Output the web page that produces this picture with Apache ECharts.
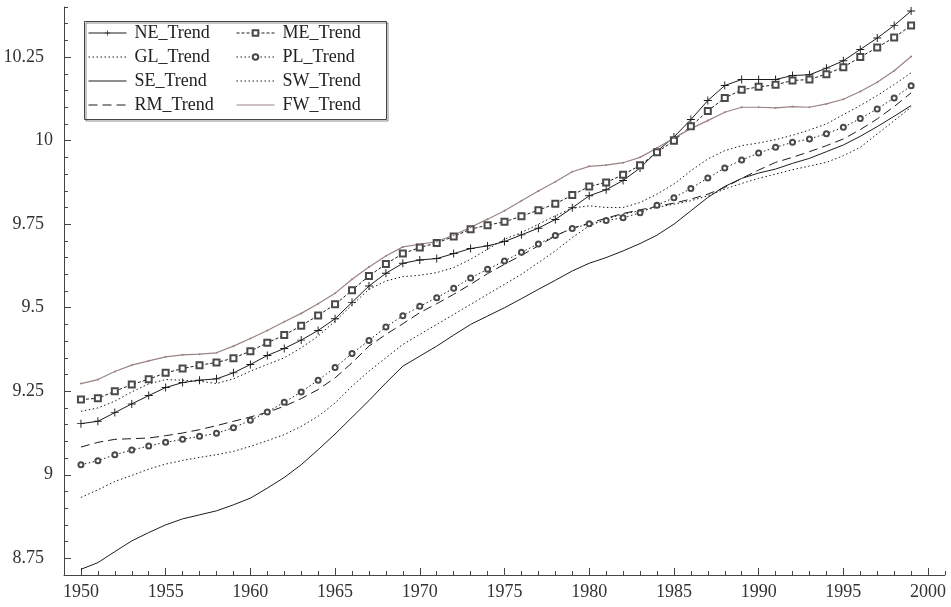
<!DOCTYPE html>
<html>
<head>
<meta charset="utf-8">
<script src="https://cdn.jsdelivr.net/npm/echarts@6/dist/echarts.min.js"></script>
<style>
html,body{margin:0;padding:0;background:#fff;}
#chart{width:951px;height:607px;}
</style>
</head>
<body>
<div id="chart"></div>
<script>
const years = [1950,1951,1952,1953,1954,1955,1956,1957,1958,1959,1960,1961,1962,1963,1964,1965,1966,1967,1968,1969,1970,1971,1972,1973,1974,1975,1976,1977,1978,1979,1980,1981,1982,1983,1984,1985,1986,1987,1988,1989,1990,1991,1992,1993,1994,1995,1996,1997,1998,1999];

const NE_Trend = [9.153,9.160,9.186,9.212,9.237,9.261,9.276,9.283,9.287,9.305,9.330,9.357,9.378,9.403,9.432,9.467,9.516,9.565,9.603,9.633,9.643,9.647,9.662,9.677,9.685,9.698,9.718,9.738,9.764,9.799,9.835,9.853,9.881,9.918,9.968,10.011,10.063,10.120,10.165,10.183,10.183,10.183,10.195,10.197,10.217,10.239,10.273,10.307,10.345,10.388];
const ME_Trend = [9.225,9.229,9.250,9.270,9.286,9.305,9.318,9.328,9.336,9.349,9.370,9.395,9.418,9.446,9.477,9.510,9.552,9.595,9.631,9.662,9.680,9.694,9.713,9.735,9.747,9.757,9.774,9.792,9.811,9.837,9.863,9.875,9.898,9.926,9.965,10.000,10.043,10.089,10.128,10.152,10.161,10.167,10.180,10.183,10.199,10.220,10.250,10.279,10.309,10.345];
const GL_Trend = [8.932,8.955,8.980,8.998,9.017,9.032,9.043,9.052,9.060,9.070,9.085,9.102,9.120,9.145,9.175,9.215,9.265,9.310,9.350,9.390,9.420,9.450,9.480,9.510,9.540,9.570,9.600,9.635,9.670,9.710,9.745,9.765,9.780,9.790,9.800,9.810,9.820,9.835,9.855,9.872,9.887,9.900,9.913,9.924,9.935,9.955,9.980,10.020,10.060,10.100];
const PL_Trend = [9.030,9.042,9.060,9.074,9.086,9.097,9.106,9.115,9.124,9.141,9.163,9.188,9.217,9.248,9.283,9.321,9.363,9.402,9.442,9.476,9.504,9.530,9.558,9.589,9.615,9.640,9.666,9.691,9.716,9.737,9.751,9.761,9.769,9.784,9.807,9.829,9.857,9.888,9.918,9.942,9.963,9.980,9.995,10.005,10.021,10.040,10.066,10.095,10.128,10.164];
const SE_Trend = [8.717,8.737,8.770,8.802,8.827,8.850,8.868,8.880,8.892,8.910,8.930,8.960,8.992,9.030,9.075,9.122,9.172,9.222,9.275,9.325,9.355,9.385,9.418,9.450,9.475,9.500,9.527,9.555,9.582,9.610,9.633,9.650,9.670,9.692,9.717,9.750,9.790,9.830,9.863,9.887,9.903,9.915,9.932,9.947,9.967,9.987,10.013,10.042,10.073,10.105];
const SW_Trend = [9.190,9.200,9.220,9.248,9.272,9.285,9.283,9.280,9.273,9.287,9.310,9.330,9.350,9.380,9.415,9.460,9.508,9.555,9.580,9.593,9.597,9.605,9.620,9.645,9.675,9.705,9.725,9.750,9.775,9.798,9.805,9.800,9.800,9.815,9.840,9.870,9.910,9.945,9.970,9.985,9.993,10.003,10.016,10.032,10.050,10.078,10.105,10.135,10.168,10.203];
const RM_Trend = [9.083,9.097,9.106,9.108,9.110,9.117,9.125,9.135,9.147,9.160,9.173,9.187,9.205,9.228,9.255,9.290,9.335,9.385,9.420,9.452,9.485,9.512,9.540,9.570,9.602,9.630,9.657,9.685,9.715,9.738,9.753,9.768,9.782,9.793,9.803,9.813,9.825,9.840,9.860,9.887,9.912,9.935,9.950,9.967,9.985,10.005,10.033,10.065,10.102,10.143];
const FW_Trend = [9.273,9.285,9.309,9.328,9.341,9.353,9.359,9.361,9.365,9.385,9.408,9.432,9.458,9.483,9.512,9.543,9.585,9.622,9.655,9.682,9.690,9.698,9.717,9.741,9.765,9.790,9.820,9.849,9.877,9.907,9.923,9.927,9.934,9.950,9.978,10.008,10.036,10.060,10.085,10.100,10.100,10.098,10.102,10.100,10.110,10.124,10.147,10.175,10.209,10.252];

const xTickLabels = [1950,1955,1960,1965,1970,1975,1980,1985,1990,1995,2000];
const yTickLabels = [8.75,9,9.25,9.5,9.75,10,10.25];

const FONT = "'Liberation Serif', 'Times New Roman', serif";
const INK = '#1c1c1c';
const MARK = '#4a4a4a';
const FW_COLOR = '#9a8482';
const PLUS = 'path://M4.4,0H5.6V10H4.4Z M0,4.4H10V5.6H0Z';

function pairs(vals){ return years.map((y,i)=>[y, vals[i]]); }

function mk(name, vals, opt){
  return Object.assign({
    name: name, type: 'line', data: pairs(vals), smooth: false,
    symbol: 'none', showSymbol: true,
    lineStyle: {color: INK, width: 1, type: 'solid'},
    itemStyle: {color: INK, borderWidth: 1},
    emphasis: {disabled: true}
  }, opt);
}

const series = [
  mk('NE_Trend', NE_Trend, {symbol: PLUS, symbolSize: 8}),
  mk('ME_Trend', ME_Trend, {symbol: 'emptyRect', symbolSize: 6,
      lineStyle: {color: INK, width: 1, type: [3,2]},
      itemStyle: {color: MARK, borderColor: MARK, borderWidth: 1}}),
  mk('GL_Trend', GL_Trend, {lineStyle: {color: INK, width: 1, type: [1.5,2.5]}}),
  mk('PL_Trend', PL_Trend, {symbol: 'emptyCircle', symbolSize: 5,
      lineStyle: {color: INK, width: 1, type: [1.5,2.5]},
      itemStyle: {color: MARK, borderColor: MARK, borderWidth: 1}}),
  mk('SE_Trend', SE_Trend, {}),
  mk('SW_Trend', SW_Trend, {lineStyle: {color: INK, width: 1, type: [1.5,2.5]}}),
  mk('RM_Trend', RM_Trend, {lineStyle: {color: INK, width: 1, type: [9,5]}}),
  mk('FW_Trend', FW_Trend, {symbol: 'circle', symbolSize: 2,
      lineStyle: {color: FW_COLOR, width: 1.2, type: 'solid'},
      itemStyle: {color: FW_COLOR}})
];

const legendText = {fontFamily: FONT, fontSize: 18, color: '#222', lineHeight: 18, padding: [0,0,0,3]};
const hidden = {opacity: 0};

const chart = echarts.init(document.getElementById('chart'), null, {renderer: 'canvas'});
chart.setOption({
  animation: false,
  backgroundColor: '#fff',
  grid: {left: 64, right: 6, top: 7, bottom: 32, containLabel: false},
  legend: [
    {data: ['NE_Trend', {name: 'GL_Trend', itemStyle: hidden}, {name: 'SE_Trend', itemStyle: hidden}, {name: 'RM_Trend', itemStyle: hidden}],
     orient: 'vertical', left: 88, top: 24, lineStyle: {width: 1},
     itemWidth: 38, itemHeight: 7, itemGap: 6, padding: 0, textStyle: legendText, selectedMode: false},
    {data: ['ME_Trend', 'PL_Trend', {name: 'SW_Trend', itemStyle: hidden}, {name: 'FW_Trend', itemStyle: hidden}],
     orient: 'vertical', left: 236, top: 24, lineStyle: {width: 1},
     itemWidth: 38, itemHeight: 7, itemGap: 6, padding: 0, textStyle: legendText, selectedMode: false}
  ],
  graphic: [{
    type: 'rect', left: 82, top: 19, z: 100,
    shape: {width: 302, height: 98},
    style: {fill: null, stroke: '#444', lineWidth: 1,
            shadowColor: 'rgba(0,0,0,0.45)', shadowOffsetX: 1.5, shadowOffsetY: 1.5, shadowBlur: 0}
  }],
  xAxis: [
    {type: 'value', min: 1949, max: 2001, position: 'bottom',
     axisLine: {show: true, lineStyle: {color: '#444', width: 1}},
     axisTick: {show: true, inside: true, length: 7, customValues: xTickLabels, lineStyle: {color: '#444'}},
     axisLabel: {show: true, customValues: xTickLabels, margin: 8, color: '#333',
                 fontFamily: FONT, fontSize: 18, formatter: v => String(v)},
     splitLine: {show: false}},
    {type: 'value', min: 1949, max: 2001, interval: 1, position: 'bottom',
     axisLine: {show: false},
     axisTick: {show: true, inside: true, length: 4, lineStyle: {color: '#444'}},
     axisLabel: {show: false}, splitLine: {show: false}}
  ],
  yAxis: [
    {type: 'value', min: 8.70, max: 10.40, position: 'left',
     axisLine: {show: true, lineStyle: {color: '#444', width: 1}},
     axisTick: {show: true, inside: true, length: 7, customValues: yTickLabels, lineStyle: {color: '#444'}},
     axisLabel: {show: true, customValues: yTickLabels, margin: 11, color: '#333',
                 fontFamily: FONT, fontSize: 18,
                 formatter: v => Number.isInteger(v) ? '{i|' + v + '}' : '{d|' + v + '}',
                 rich: {i: {fontFamily: FONT, fontSize: 18, color: '#333'},
                        d: {fontFamily: FONT, fontSize: 18, color: '#333', padding: [0,9,0,0]}}},
     splitLine: {show: false}},
    {type: 'value', min: 8.70, max: 10.40, interval: 0.05, position: 'left', offset: 0,
     axisLine: {show: false},
     axisTick: {show: true, inside: true, length: 4, lineStyle: {color: '#444'}},
     axisLabel: {show: false}, splitLine: {show: false}}
  ],
  series: series
});
</script>
</body>
</html>
